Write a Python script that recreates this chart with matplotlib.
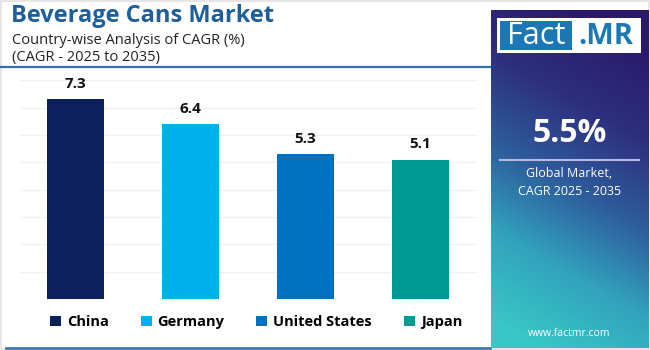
import numpy as np
import matplotlib.pyplot as plt
from matplotlib.patches import Rectangle
from matplotlib.colors import LinearSegmentedColormap

plt.rcParams['font.family'] = ['Open Sans', 'DejaVu Sans']

# ── data ──────────────────────────────────────────────────────────────────────
countries = ['China', 'Germany', 'United States', 'Japan']
cagr = [7.3, 6.4, 5.3, 5.1]
bar_colors = ['#0c205e', '#00b0ec', '#0070c0', '#009a94']

title = 'Beverage Cans Market'
subtitle = ['Country-wise Analysis of CAGR (%)', '(CAGR - 2025 to 2035)']
global_cagr = '5.5%'
global_label = 'Global Market,\nCAGR 2025 - 2035'

W, H = 650, 350
fig = plt.figure(figsize=(W / 100, H / 100), dpi=100)
fig.patch.set_facecolor('white')


def px(x, y, w, h):
    # pixel box (top-left origin) -> figure fraction
    return [x / W, 1 - (y + h) / H, w / W, h / H]


# ── background overlay axis ──────────────────────────────────────────────────
bg = fig.add_axes([0, 0, 1, 1])
bg.set_xlim(0, W)
bg.set_ylim(H, 0)
bg.axis('off')
bg.add_patch(Rectangle((1, 1), W - 2, H - 2, fill=False, ec='#e2e2e2', lw=1.2))
bg.plot([0, 490], [67, 67], color='#2f6fae', lw=1.6)
bg.plot([6, 490], [348, 348], color='#3d7ab5', lw=2)

bg.text(11, 16, title, fontsize=17, fontweight='bold', color='#1d5f9c',
        va='center', ha='left')
bg.text(12, 40, subtitle[0], fontsize=10.5, color='#222222', va='center')
bg.text(12, 57, subtitle[1], fontsize=10.5, color='#222222', va='center')

# ── right panel with gradient ────────────────────────────────────────────────
panel = fig.add_axes(px(491, 10, 157, 338))
panel.set_xlim(0, 1)
panel.set_ylim(1, 0)
panel.axis('off')
cmap = LinearSegmentedColormap.from_list(
    'fm', ['#2b1a6c', '#2d2f7e', '#2e5c9c', '#32a3bd', '#38c6c6'])
gx, gy = np.meshgrid(np.linspace(0, 1, 120), np.linspace(0, 1, 260))
grad = np.clip(gy * 0.95 + (1 - gx) * 0.25 - 0.12, 0, 1)
panel.imshow(grad, cmap=cmap, extent=[0, 1, 1, 0], aspect='auto', vmin=0, vmax=1)

# logo
panel.add_patch(Rectangle((6 / 157, 8 / 338), 144 / 157, 35 / 338,
                          fc='white', ec='none'))
panel.add_patch(Rectangle((9 / 157, 11 / 338), 72 / 157, 29 / 338,
                          fc='#1b78b4', ec='none'))
panel.text(45 / 157, 26 / 338, 'Fact', fontsize=22, color='white',
           ha='center', va='center')
panel.text(115 / 157, 26 / 338, '.MR', fontsize=21, color='#1b78b4',
           fontweight='bold', ha='center', va='center')

panel.text(0.5, 123 / 338, global_cagr, fontsize=23, fontweight='bold',
           color='white', ha='center', va='center')
panel.plot([9 / 157, 148 / 157], [150 / 338, 150 / 338], color='#b9b9dd', lw=1.5)
panel.text(0.5, 172 / 338, global_label, fontsize=9, color='white',
           ha='center', va='center', linespacing=1.5)
panel.text(0.5, 323 / 338, 'www.factmr.com', fontsize=7.5, color='white',
           ha='center', va='center')

# ── bar chart ────────────────────────────────────────────────────────────────
ax = fig.add_axes(px(20, 72, 457, 227))
ax.patch.set_alpha(0)
x = np.arange(len(countries))
bars = ax.bar(x, cagr, width=0.5, color=bar_colors, zorder=3)
for b, v in zip(bars, cagr):
    ax.text(b.get_x() + b.get_width() / 2, v + 0.3, f'{v}', ha='center',
            va='bottom', fontsize=11, fontweight='bold', color='#111111')
ax.set_xlim(-0.483, 3.491)
ax.set_ylim(0, 8.3)
ax.set_yticks(np.arange(0, 9, 1))
ax.grid(axis='y', color='#f0f0f0', lw=0.8, zorder=0)
ax.tick_params(left=False, bottom=False, labelleft=False, labelbottom=False)
for s in ax.spines.values():
    s.set_visible(False)

handles = [Rectangle((0, 0), 1, 1, fc=c) for c in bar_colors]
leg = fig.legend(handles, countries, loc='center', ncol=4,
                 bbox_to_anchor=(256 / W, 1 - 322 / H), frameon=False,
                 handlelength=0.75, handleheight=0.75, handletextpad=0.4,
                 columnspacing=2.2, prop={'weight': 'bold', 'size': 10.5})

fig.savefig('out.png', dpi=100)
